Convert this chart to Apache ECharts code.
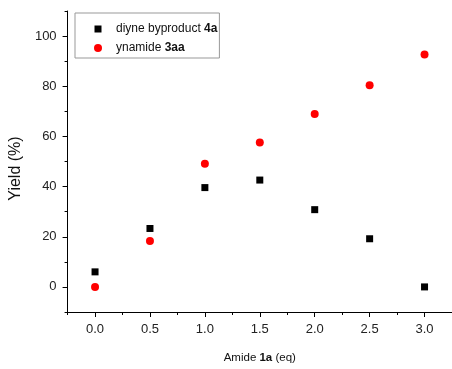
<!DOCTYPE html>
<html>
<head>
<meta charset="utf-8">
<script src="https://cdn.jsdelivr.net/npm/echarts@6/dist/echarts.min.js"></script>
<style>
html,body{margin:0;padding:0;background:#fff;}
#chart{width:452px;height:369px;}
</style>
</head>
<body>
<div id="chart"></div>
<script>
// Data
const amideEq = [0.0, 0.5, 1.0, 1.5, 2.0, 2.5, 3.0];
const diyneYield = [6.0, 23.3, 39.6, 42.6, 30.8, 19.2, 0.0];
const ynamideYield = [0.0, 18.3, 49.1, 57.6, 68.9, 80.4, 92.7];
const seriesNames = ['diyne byproduct 4a', 'ynamide 3aa'];
const xMajorTicks = [0, 0.5, 1.0, 1.5, 2.0, 2.5, 3.0];
const xMinorTicks = [-0.25, 0.25, 0.75, 1.25, 1.75, 2.25, 2.75, 3.25];
const yMajorTicks = [0, 20, 40, 60, 80, 100];
const yMinorTicks = [-10, 10, 30, 50, 70, 90, 110];

const FONT = 'Arial, "Liberation Sans", sans-serif';
const chart = echarts.init(document.getElementById('chart'), null, {renderer: 'canvas'});

const axisLineStyle = {show: true, onZero: false, lineStyle: {color: '#000', width: 1}};

const option = {
  backgroundColor: '#fff',
  animation: false,
  grid: {left: 61, right: 0, top: 11, bottom: 48, containLabel: false},
  legend: {
    orient: 'vertical',
    left: 75, top: 13,
    padding: [10, 2, 4, 10],
    itemGap: 7,
    itemWidth: 26, itemHeight: 8,
    symbolKeepAspect: false,
    borderColor: '#999', borderWidth: 1,
    data: [
      {name: seriesNames[0], icon: 'path://M0,0M26,8M9.5,0.5L16.5,0.5L16.5,7.5L9.5,7.5Z', itemStyle: {opacity: 1}},
      {name: seriesNames[1], icon: 'circle', itemStyle: {opacity: 1}}
    ],
    formatter: function (name) {
      return name.replace(/(\S+)$/, '{b|$1}');
    },
    textStyle: {
      fontFamily: FONT, fontSize: 12, color: '#111',
      rich: {b: {fontFamily: FONT, fontSize: 12, fontWeight: 'bold', color: '#111'}}
    }
  },
  xAxis: [{
    type: 'value', min: -0.25, max: 3.25,
    name: 'Amide {b|1a} (eq)',
    nameLocation: 'middle', nameGap: 40,
    nameTextStyle: {fontFamily: FONT, fontSize: 11.5, color: '#111',
      rich: {b: {fontFamily: FONT, fontSize: 11.5, fontWeight: 'bold', color: '#111'}}},
    axisLine: axisLineStyle,
    axisTick: {show: true, inside: false, length: 5, customValues: xMajorTicks, lineStyle: {color: '#000'}},
    axisLabel: {show: true, customValues: xMajorTicks, margin: 11, fontFamily: FONT, fontSize: 13, color: '#222',
      formatter: v => v.toFixed(1)},
    splitLine: {show: false}
  }, {
    type: 'value', min: -0.25, max: 3.25, position: 'bottom',
    axisLine: {show: false, onZero: false},
    axisTick: {show: true, inside: false, length: 3, customValues: xMinorTicks, lineStyle: {color: '#000'}},
    axisLabel: {show: false},
    splitLine: {show: false}
  }],
  yAxis: [{
    type: 'value', min: -10, max: 110,
    name: 'Yield (%)',
    nameLocation: 'middle', nameGap: 23,
    nameTextStyle: {fontFamily: FONT, fontSize: 16, color: '#111', padding: [0, 14, 0, 0]},
    axisLine: axisLineStyle,
    axisTick: {show: true, inside: false, length: 5, customValues: yMajorTicks, lineStyle: {color: '#000'}},
    axisLabel: {show: true, customValues: yMajorTicks, margin: 11, fontFamily: FONT, fontSize: 13, color: '#222'},
    splitLine: {show: false}
  }, {
    type: 'value', min: -10, max: 110, position: 'left',
    axisLine: {show: false, onZero: false},
    axisTick: {show: true, inside: false, length: 3, customValues: yMinorTicks, lineStyle: {color: '#000'}},
    axisLabel: {show: false},
    splitLine: {show: false}
  }],
  series: [{
    name: seriesNames[0], type: 'scatter',
    symbol: 'rect', symbolSize: 7,
    itemStyle: {color: '#000', opacity: 1},
    data: amideEq.map((x, i) => [x, diyneYield[i]])
  }, {
    name: seriesNames[1], type: 'scatter',
    symbol: 'circle', symbolSize: 8,
    itemStyle: {color: '#ff0000', opacity: 1},
    data: amideEq.map((x, i) => [x, ynamideYield[i]])
  }]
};
chart.setOption(option);
</script>
</body>
</html>
